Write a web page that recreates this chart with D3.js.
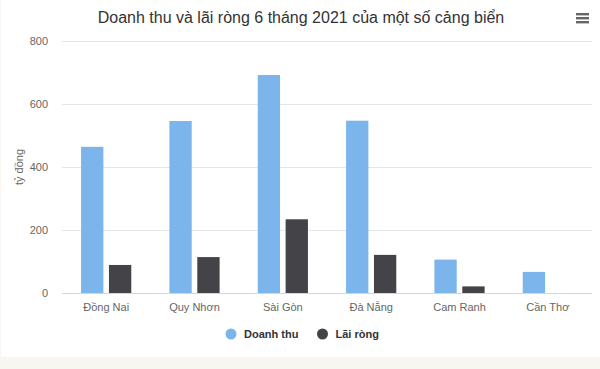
<!DOCTYPE html>
<html>
<head>
<meta charset="utf-8">
<script src="https://cdn.jsdelivr.net/npm/d3@7"></script>
<style>
  html, body { margin: 0; padding: 0; background: #f8f6f1; }
  svg { display: block; font-family: "Liberation Sans", Arial, sans-serif; }
</style>
</head>
<body>
<svg id="chart" width="600" height="369"></svg>
<script>
// Ports and their half-year 2021 figures (billion VND)
const ports = ["Đồng Nai", "Quy Nhơn", "Sài Gòn", "Đà Nẵng", "Cam Ranh", "Cần Thơ"];
const revenue = [464, 546, 692, 547, 106, 67];
const netProfit = [89, 114, 234, 121, 21, 0];
const seriesNames = ["Doanh thu", "Lãi ròng"];
const seriesColors = ["#7cb5ec", "#434348"];
const yTicks = [0, 200, 400, 600, 800];

const svg = d3.select("#chart");
const W = 600, H = 369;

// white chart card with beige page strip beneath
svg.append("rect").attr("x", 0).attr("y", 0).attr("width", W).attr("height", H).attr("fill", "#f8f6f1");
svg.append("rect").attr("x", 1).attr("y", 0).attr("width", W - 1).attr("height", 357).attr("fill", "#ffffff");

const plot = { left: 62, right: 592, top: 41, bottom: 293 };

const x = d3.scaleBand().domain(ports).range([plot.left, plot.right]).paddingInner(0).paddingOuter(0);
const y = d3.scaleLinear().domain([0, 800]).range([plot.bottom, plot.top]);

// inner scale for the two series within a category
const groupPad = 0.2 * x.bandwidth();
const xs = d3.scaleBand().domain([0, 1])
  .range([groupPad, x.bandwidth() - groupPad]).paddingInner(0.2).paddingOuter(0.05);

// gridlines
svg.append("g")
  .selectAll("line")
  .data(yTicks.filter(t => t > 0))
  .join("line")
  .attr("x1", plot.left).attr("x2", plot.right)
  .attr("y1", d => Math.round(y(d)) + 0.5).attr("y2", d => Math.round(y(d)) + 0.5)
  .attr("stroke", "#e6e6e6").attr("stroke-width", 1);

// y axis labels
const yAxis = d3.axisLeft(y).tickValues(yTicks).tickSize(0).tickPadding(0);
const yg = svg.append("g").attr("transform", `translate(${plot.left - 14},0)`).call(yAxis);
yg.select(".domain").remove();
yg.selectAll("text").attr("fill", "#666").style("font-size", "11px").attr("dy", "0.32em");

// y axis title
svg.append("text")
  .attr("transform", `translate(23,${(plot.top + plot.bottom) / 2}) rotate(-90)`)
  .attr("text-anchor", "middle")
  .attr("fill", "#666").style("font-size", "11px")
  .text("tỷ đồng");

// bars
const series = [revenue, netProfit];
series.forEach((vals, si) => {
  svg.append("g")
    .selectAll("rect")
    .data(vals.map((v, i) => ({ port: ports[i], v })))
    .join("rect")
    .attr("x", d => x(d.port) + xs(si))
    .attr("width", xs.bandwidth())
    .attr("y", d => y(d.v))
    .attr("height", d => y(0) - y(d.v))
    .attr("fill", seriesColors[si]);
});

// x axis
const xAxis = d3.axisBottom(x).tickSize(0).tickPadding(10);
const xg = svg.append("g").attr("transform", `translate(0,${plot.bottom})`).call(xAxis);
xg.select(".domain").attr("stroke", "#ccd6eb").attr("d", `M${plot.left},0.5H${plot.right}`);
xg.selectAll("text").attr("fill", "#666").style("font-size", "11px");

// title
svg.append("text")
  .attr("x", 301).attr("y", 23)
  .attr("text-anchor", "middle")
  .attr("fill", "#333").style("font-size", "16px")
  .text("Doanh thu và lãi ròng 6 tháng 2021 của một số cảng biển");

// context menu icon
const menu = svg.append("g").attr("transform", "translate(576,13)");
[0, 4, 8].forEach(dy => {
  menu.append("rect").attr("x", 0).attr("y", dy).attr("width", 13).attr("height", 2.4)
    .attr("fill", "#666");
});

// legend
const legendItems = [
  { name: seriesNames[0], color: seriesColors[0], x: 231 },
  { name: seriesNames[1], color: seriesColors[1], x: 322.5 }
];
const lg = svg.append("g");
legendItems.forEach(it => {
  lg.append("circle").attr("cx", it.x).attr("cy", 334).attr("r", 5.5).attr("fill", it.color);
  lg.append("text").attr("x", it.x + 13).attr("y", 338)
    .attr("fill", "#333").style("font-size", "11px").style("font-weight", "bold")
    .text(it.name);
});
</script>
</body>
</html>
